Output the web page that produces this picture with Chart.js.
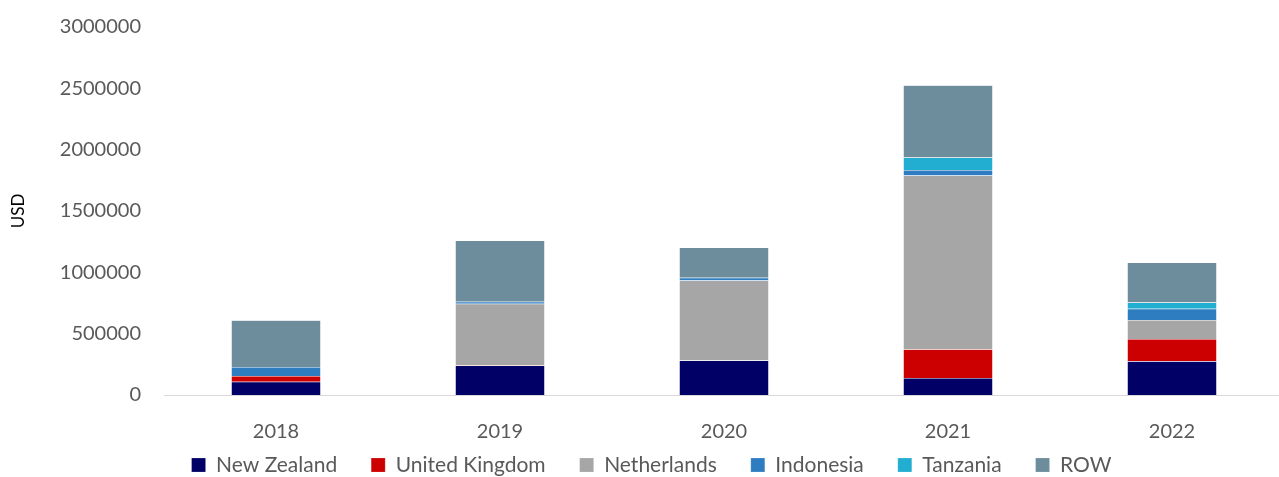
<!DOCTYPE html>
<html>
<head>
<meta charset="utf-8">
<script src="https://cdn.jsdelivr.net/npm/chart.js@4"></script>
<style>
    html, body { margin: 0; padding: 0; background: #fff; }
    #wrap { width: 1279px; height: 477px; }
</style>
</head>
<body>
<div id="wrap"><canvas id="chart" width="1279" height="477"></canvas></div>
<script>
// Export values by destination, USD
const years = ["2018", "2019", "2020", "2021", "2022"];
const newZealand = [107000, 240000, 282000, 139000, 276000];
const unitedKingdom = [48000, 4000, 0, 234000, 180000];
const netherlands = [0, 500000, 651000, 1416000, 156000];
const indonesia = [73000, 16000, 22000, 46000, 92000];
const tanzania = [0, 0, 0, 102000, 51000];
const row = [382000, 500000, 247000, 589000, 325000];

const yTicks = [0, 500000, 1000000, 1500000, 2000000, 2500000, 3000000];

const textColour = "#595959";
const fontFamily = "Lato, 'Open Sans', sans-serif";

const legendFont = 21;
const legendGap = 34;

// One dataset per destination, stacked from the bottom up
function series(label, data, colour) {
    return {
        label: label,
        data: data,
        backgroundColor: colour,
        borderColor: "rgba(255,255,255,0.35)",
        borderWidth: 0.5,
        barPercentage: 0.40,
        categoryPercentage: 1.0
    };
}

// The legend padding doubles as the gap between items, so reserve only a
// short strip for it in the layout, then stretch its box back down to the
// bottom edge so the row is drawn (and not clipped) just under the years.
// The plot also runs a few pixels past the right edge of the canvas.
const layoutTweaks = {
    id: "layoutTweaks",
    afterInit(chart) {
        const legend = chart.legend;
        const fit = legend.fit;
        legend.fit = function() {
            fit.call(this);
            this.height = 16;
        };
    },
    afterLayout(chart) {
        const legend = chart.legend;
        legend.top = 465 - legendGap - legendFont / 2;
        legend.bottom = chart.height;
        legend.height = legend.bottom - legend.top;
        legend.left += 20; // nudge the centred row to the right
        legend.width = legend.right - legend.left;

        const x = chart.scales.x;
        x.right = chart.width + 5;
        x.width = x.right - x.left;
        x.configure();
        chart.chartArea.right = x.right;
        chart.chartArea.width = x.right - chart.chartArea.left;
    }
};

const ctx = document.getElementById("chart").getContext("2d");
const chart = new Chart(ctx, {
    type: "bar",
    data: {
        labels: years,
        datasets: [
            series("New Zealand", newZealand, "#000066"),
            series("United Kingdom", unitedKingdom, "#cc0000"),
            series("Netherlands", netherlands, "#a6a6a6"),
            series("Indonesia", indonesia, "#2e7dc1"),
            series("Tanzania", tanzania, "#21aed0"),
            series("ROW", row, "#6d8d9c")
        ]
    },
    plugins: [layoutTweaks],
    options: {
        responsive: false,
        animation: false,
        layout: {
            padding: { left: 4, right: 0, top: -8, bottom: 0 }
        },
        plugins: {
            legend: {
                position: "bottom",
                labels: {
                    color: textColour,
                    font: { family: fontFamily, size: legendFont },
                    boxWidth: 14,
                    boxHeight: 14,
                    padding: legendGap
                }
            },
            tooltip: { enabled: false }
        },
        scales: {
            x: {
                stacked: true,
                grid: { display: false },
                border: { display: true, color: "#d9d9d9", width: 1 },
                ticks: {
                    color: textColour,
                    font: { family: fontFamily, size: 20 },
                    padding: 17
                }
            },
            y: {
                stacked: true,
                min: 0,
                max: 3000000,
                afterBuildTicks: function(axis) {
                    axis.ticks = yTicks.map(v => ({ value: v }));
                },
                afterFit: function(axis) {
                    axis.width = 160;
                },
                grid: { display: false },
                border: { display: false },
                title: {
                    display: true,
                    text: "USD",
                    color: "#000",
                    font: { family: fontFamily, size: 17 },
                    padding: { top: 4, bottom: 0 }
                },
                ticks: {
                    color: textColour,
                    font: { family: fontFamily, size: 20 },
                    padding: 15,
                    callback: v => String(v)
                }
            }
        }
    }
});
</script>
</body>
</html>
